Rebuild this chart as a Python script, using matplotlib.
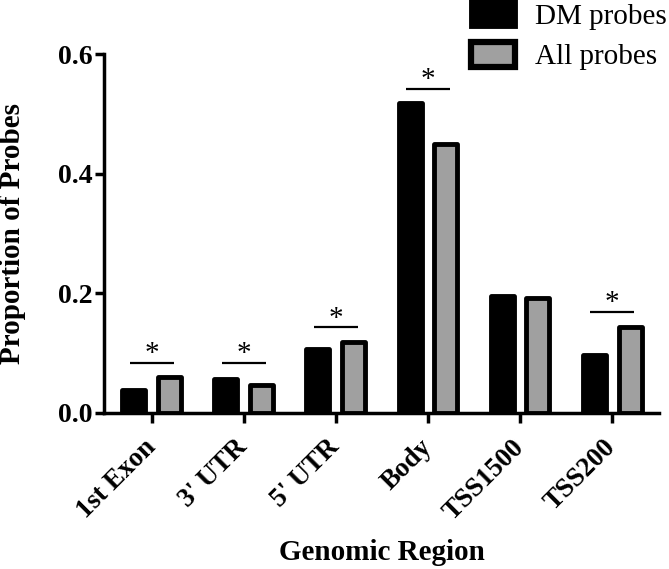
import matplotlib
matplotlib.use("Agg")
import matplotlib.pyplot as plt
import numpy as np
from matplotlib.patches import Patch

categories = ["1st Exon", "3' UTR", "5' UTR", "Body", "TSS1500", "TSS200"]
dm_probes = [0.038, 0.057, 0.107, 0.518, 0.195, 0.097]
all_probes = [0.061, 0.046, 0.118, 0.449, 0.192, 0.143]
sig_heights = [0.084, 0.084, 0.143, 0.542, None, 0.169]
yticks = [0.0, 0.2, 0.4, 0.6]
ytick_labels = ["0.0", "0.2", "0.4", "0.6"]

plt.rcParams['font.family'] = ['Liberation Serif', 'DejaVu Serif']

fig = plt.figure(figsize=(6.69, 5.69), dpi=100)
ax = fig.add_axes([104/669, 1 - 413/569, 555/669, 359/569])

x = np.arange(len(categories))
w = 0.25
off = 0.195
lw = 3.5
ax.bar(x - off, dm_probes, width=w, color='black', edgecolor='black',
       linewidth=lw, joinstyle='round', zorder=3)
ax.bar(x + off, all_probes, width=w, color='#a0a0a0', edgecolor='black',
       linewidth=lw, joinstyle='round', zorder=3)

for xi, h in zip(x, sig_heights):
    if h is None:
        continue
    ax.plot([xi - 0.24, xi + 0.24], [h, h], color='black', lw=1.6,
            solid_capstyle='butt', zorder=4, clip_on=False)
    ax.annotate('*', xy=(xi, h), xytext=(0, 1), textcoords='offset points',
                ha='center', va='baseline', fontsize=21, zorder=4,
                annotation_clip=False)

ax.set_xlim(-0.52, 5.51)
ax.set_ylim(0, 0.6)
ax.set_yticks(yticks)
ax.set_yticklabels(ytick_labels, fontsize=20, fontweight='bold')
ax.set_xticks(x)
ax.set_xticklabels(categories, fontsize=19.5, fontweight='bold', rotation=45,
                   ha='right', va='center', rotation_mode='anchor')

for s in ['top', 'right']:
    ax.spines[s].set_visible(False)
for s in ['left', 'bottom']:
    ax.spines[s].set_linewidth(2.5)
ax.spines['left'].set_bounds(0, 0.6)

ax.tick_params(axis='y', length=6.5, width=2.5, pad=2)
ax.tick_params(axis='x', length=7, width=2.5, pad=15)

ax.set_ylabel('Proportion of Probes', fontsize=21, fontweight='bold')
ax.yaxis.set_label_coords(-0.1405, 0.5)
ax.set_xlabel('Genomic Region', fontsize=21, fontweight='bold')
ax.xaxis.set_label_coords(0.5, -0.35)

handles = [Patch(facecolor='black', edgecolor='black', linewidth=3.5),
           Patch(facecolor='#a0a0a0', edgecolor='black', linewidth=4.5)]
fig.legend(handles, ['DM probes', 'All probes'], loc='upper left',
           bbox_to_anchor=(471/669, 1 - 1/569), frameon=False,
           fontsize=21, handlelength=1.5, handleheight=0.95,
           handletextpad=0.7, labelspacing=0.42, borderpad=0,
           borderaxespad=0)

fig.savefig('out.png', dpi=100)
